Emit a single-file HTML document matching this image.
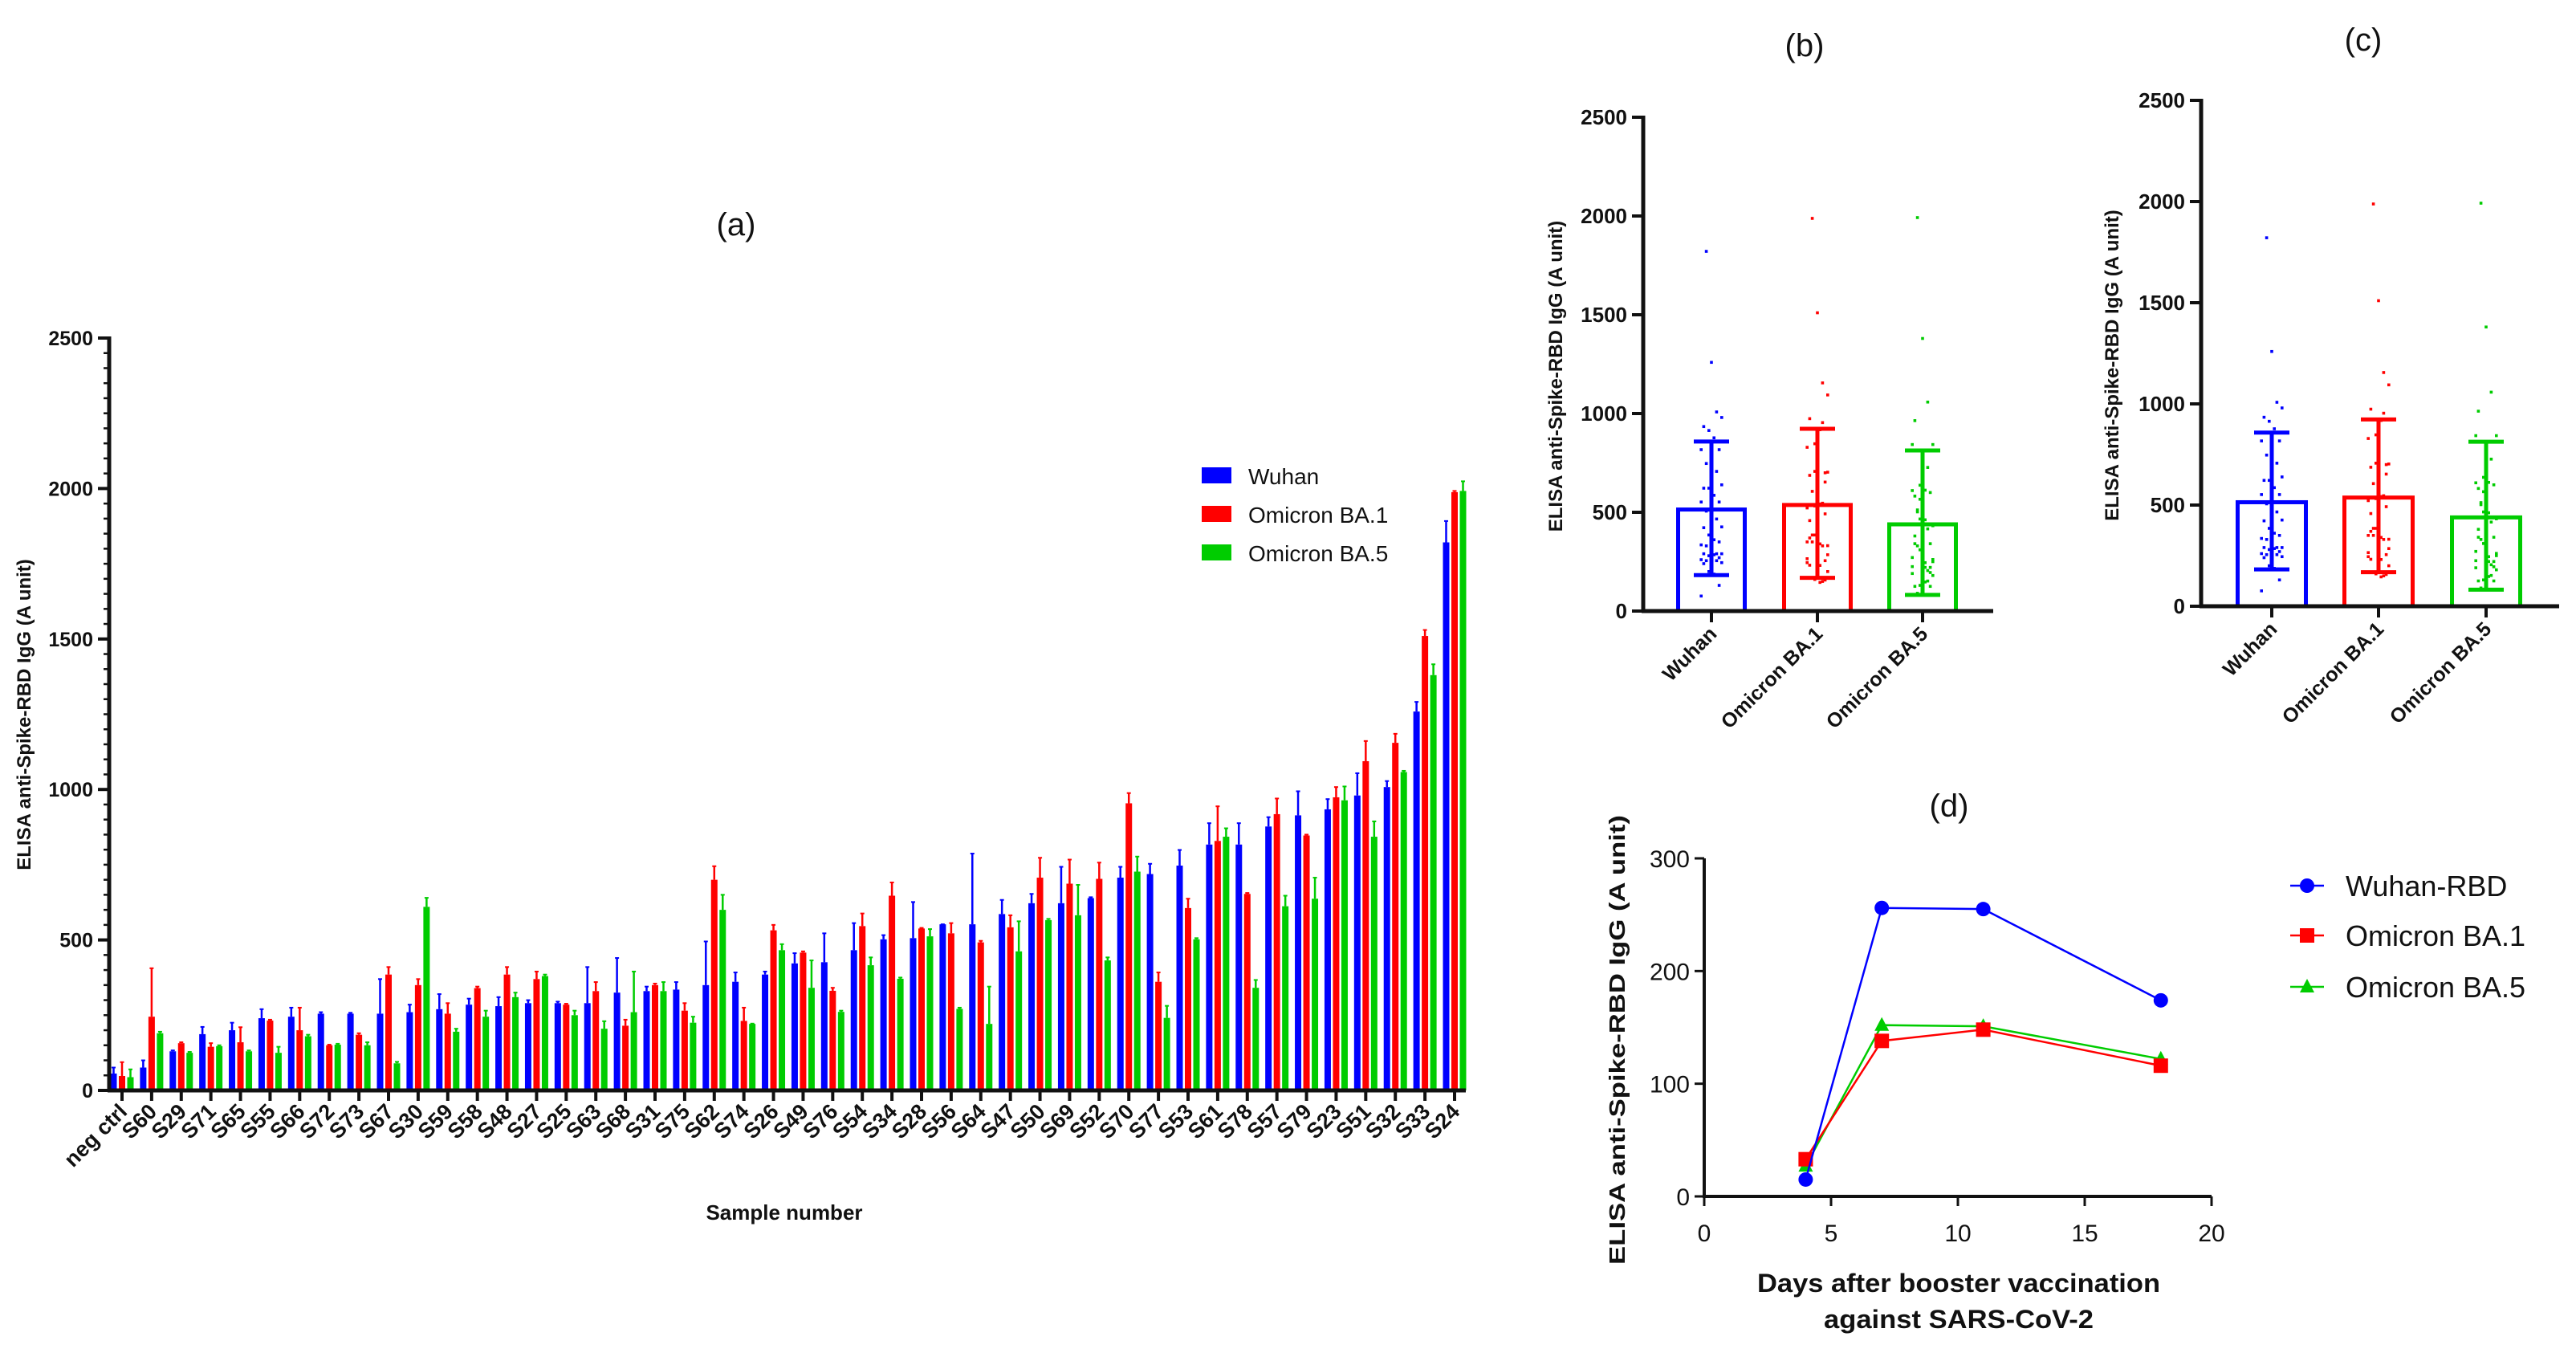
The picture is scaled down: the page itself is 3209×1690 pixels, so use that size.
<!DOCTYPE html>
<html><head><meta charset="utf-8"><style>
html,body{margin:0;padding:0;background:#fff}
svg{display:block}
text{font-family:"Liberation Sans",sans-serif;fill:#111}
</style></head><body>
<svg id="fig" width="3209" height="1690" viewBox="0 0 3209 1690" xmlns="http://www.w3.org/2000/svg">
<g id="pa"></g>
<g id="pb"></g>
<g id="pc"></g>
<g id="pd"></g>
</svg>
<script>
// ---------- Panel (a) data ----------
const samples = ["neg ctrl","S60","S29","S71","S65","S55","S66","S72","S73","S67","S30","S59","S58","S48","S27","S25","S63","S68","S31","S75","S62","S74","S26","S49","S76","S54","S34","S28","S56","S64","S47","S50","S69","S52","S70","S77","S53","S61","S78","S57","S79","S23","S51","S32","S33","S24"];
const wuhanMean = [56,76,130,187,200,240,245,255,255,255,260,270,285,280,290,290,290,325,330,335,350,361,385,422,426,466,502,506,552,552,586,622,622,639,707,719,747,817,817,877,914,934,980,1008,1259,1821];
const wuhanErr  = [76,100,133,211,225,270,275,260,258,370,285,320,305,310,300,295,410,440,345,360,495,392,395,456,522,556,516,626,552,787,633,653,743,642,743,753,799,888,888,908,994,968,1054,1028,1291,1892];
const ba1Mean = [48,245,157,145,160,232,200,150,185,385,350,255,340,385,370,285,330,215,350,265,700,231,532,458,331,546,647,538,522,492,542,707,687,703,954,361,606,829,653,918,847,974,1094,1155,1510,1988];
const ba1Err  = [94,406,160,157,210,235,275,152,190,410,370,290,345,410,395,288,360,235,355,290,745,275,550,462,341,588,691,540,556,497,582,773,767,757,988,392,637,944,656,970,850,1008,1161,1185,1530,1992];
const ba5Mean = [44,190,125,147,130,125,180,152,150,90,610,195,245,310,380,250,205,260,330,225,600,221,466,341,261,416,371,512,271,221,462,566,582,432,727,241,502,843,341,612,637,964,843,1058,1380,1992];
const ba5Err  = [70,195,128,150,133,145,185,155,160,95,640,205,265,325,385,265,230,395,360,245,650,222,486,432,265,442,375,536,275,345,562,570,683,442,777,281,506,871,367,647,707,1010,894,1062,1416,2024];
const yTicksA = [0,500,1000,1500,2000,2500];
const seriesNames = ["Wuhan","Omicron BA.1","Omicron BA.5"];
// ---------- Panels (b)/(c) data ----------
const groupNames = ["Wuhan","Omicron BA.1","Omicron BA.5"];
const groupMean = [514,537,439];
const groupLow  = [182,168,82];
const groupHigh = [858,923,813];
// ---------- Panel (d) data ----------
const days = [4,7,11,18];
const dWuhan = [15,256,255,174];
const dBA1 = [33,138,148,116];
const dBA5 = [27,152,151,122];
const dSeriesNames = ["Wuhan-RBD","Omicron BA.1","Omicron BA.5"];
const dYTicks = [0,100,200,300];
const dXTicks = [0,5,10,15,20];

const NS="http://www.w3.org/2000/svg";
const COLORS=["#0000ff","#ff0000","#00cc00"];
function mk(parent,tag,attrs,txt){const e=document.createElementNS(NS,tag);for(const k in attrs)e.setAttribute(k,attrs[k]);if(txt!==undefined)e.textContent=txt;parent.appendChild(e);return e;}

// ===== Panel A =====
(function(){
const g=document.getElementById('pa');
const x0=136,x1=1826,y0=1358,yTop=421;
const y=v=>y0-(v/2500)*(y0-yTop);
const tickX=i=>152+i*(1812-152)/(samples.length-1);
let t=mk(g,'text',{x:917,y:293,'font-size':40,'text-anchor':'middle'},'(a)');

const means=[wuhanMean,ba1Mean,ba5Mean],errs=[wuhanErr,ba1Err,ba5Err];
const off=[-10.5,0,10.5];
samples.forEach((s,i)=>{
  for(let k=0;k<3;k++){
    const cx=tickX(i)+off[k];
    const b=mk(g,'rect',{x:cx-4,y:y(means[k][i]),width:8,height:y0-y(means[k][i]),fill:COLORS[k]});
    
    
    const e=mk(g,'line',{x1:cx,x2:cx,y1:y(means[k][i]),y2:y(errs[k][i]),stroke:COLORS[k],'stroke-width':2.5});
    
    const c=mk(g,'line',{x1:cx-2.5,x2:cx+2.5,y1:y(errs[k][i]),y2:y(errs[k][i]),stroke:COLORS[k],'stroke-width':2});
    
  }
  const tk=mk(g,'line',{x1:tickX(i),x2:tickX(i),y1:y0,y2:y0+13,stroke:'#111','stroke-width':4});
  
  const lx=tickX(i)+8,ly=y0+28;
  const l=mk(g,'text',{x:lx,y:ly,'font-size':27,'font-weight':'bold','text-anchor':'end',transform:`rotate(-45 ${lx} ${ly})`},s);
  
});
let ax=mk(g,'line',{x1:x0,x2:x0,y1:yTop-2,y2:y0+2,stroke:'#111','stroke-width':5});

ax=mk(g,'line',{x1:x0-2,x2:x1,y1:y0,y2:y0,stroke:'#111','stroke-width':5});

for(let v=0;v<=2500;v+=50){
  const major=v%500===0;
  const m=mk(g,'line',{x1:x0-(major?14:7),x2:x0,y1:y(v),y2:y(v),stroke:'#111','stroke-width':major?4:2.5});
  
}
yTicksA.forEach(v=>{const l=mk(g,'text',{x:116,y:y(v)+9,'font-size':25,'font-weight':'bold','text-anchor':'end'},String(v));
  });
t=mk(g,'text',{x:0,y:0,'font-size':24,'font-weight':'bold','text-anchor':'middle',transform:'translate(38 890) rotate(-90)'},'ELISA anti-Spike-RBD IgG (A unit)');

t=mk(g,'text',{x:977,y:1519,'font-size':26,'font-weight':'bold','text-anchor':'middle'},'Sample number');

seriesNames.forEach((n,k)=>{
  const ly=593+k*48;
  const sw=mk(g,'rect',{x:1497,y:ly-11,width:37,height:20,fill:COLORS[k]});
  
  const l=mk(g,'text',{x:1555,y:ly+10,'font-size':28},n);
  
});
})();

// ===== Panels B and C =====
function barPanel(id,o){
const g=document.getElementById(id);
const y=v=>o.y0-(v/2500)*(o.y0-o.yTop);
let t=mk(g,'text',{x:o.titleX,y:o.titleY,'font-size':40,'text-anchor':'middle'},o.title);

const allMeans=[wuhanMean,ba1Mean,ba5Mean];
groupNames.forEach((n,k)=>{
  const cx=o.cats[k];
  const r=mk(g,'rect',{x:cx-o.bw/2,y:y(groupMean[k]),width:o.bw,height:o.y0-y(groupMean[k]),fill:'none',stroke:COLORS[k],'stroke-width':5});
  
  allMeans[k].slice(1).forEach((v,j)=>{
    const jit=((j*7)%9-4)*3.2;
    const p=mk(g,'rect',{x:cx+jit-1.8,y:y(v)-1.8,width:3.6,height:3.6,fill:COLORS[k]});
    
  });
  const e=mk(g,'path',{d:`M${cx},${y(groupLow[k])}V${y(groupHigh[k])}M${cx-22},${y(groupHigh[k])}H${cx+22}M${cx-22},${y(groupLow[k])}H${cx+22}`,stroke:COLORS[k],'stroke-width':5,fill:'none'});
  
  const tk=mk(g,'line',{x1:cx,x2:cx,y1:o.y0,y2:o.y0+14,stroke:'#111','stroke-width':4});
  
  const lx=cx+8,ly=o.y0+30;
  const l=mk(g,'text',{x:lx,y:ly,'font-size':25,'font-weight':'bold','text-anchor':'end',transform:`rotate(-45 ${lx} ${ly})`},n);
  
});
let ax=mk(g,'line',{x1:o.x0,x2:o.x0,y1:o.yTop-2,y2:o.y0+2,stroke:'#111','stroke-width':5});

ax=mk(g,'line',{x1:o.x0-2,x2:o.x1,y1:o.y0,y2:o.y0,stroke:'#111','stroke-width':5});

yTicksA.forEach(v=>{
  const m=mk(g,'line',{x1:o.x0-14,x2:o.x0,y1:y(v),y2:y(v),stroke:'#111','stroke-width':4});
  
  const l=mk(g,'text',{x:o.x0-20,y:y(v)+9,'font-size':26,'font-weight':'bold','text-anchor':'end'},String(v));
  
});
t=mk(g,'text',{x:0,y:0,'font-size':24,'font-weight':'bold','text-anchor':'middle',transform:`translate(${o.ytx} ${(o.y0+o.yTop)/2+15}) rotate(-90)`},'ELISA anti-Spike-RBD IgG (A unit)');

}
barPanel('pb',{x0:2047,x1:2483,y0:761,yTop:146,cats:[2132,2264,2395],bw:83,title:'(b)',titleX:2248,titleY:70,ytx:1946});
barPanel('pc',{x0:2742,x1:3188,y0:755,yTop:125,cats:[2830,2963,3097],bw:85,title:'(c)',titleX:2944,titleY:63,ytx:2639});

// ===== Panel D =====
(function(){
const g=document.getElementById('pd');
const x0=2123,x1=2755,y0=1490,yTop=1069;
const x=v=>x0+(v/20)*(x1-x0);
const y=v=>y0-(v/300)*(y0-yTop);
let t=mk(g,'text',{x:2428,y:1017,'font-size':40,'text-anchor':'middle'},'(d)');

let ax=mk(g,'line',{x1:x0,x2:x0,y1:yTop,y2:y0+2,stroke:'#111','stroke-width':4});

ax=mk(g,'line',{x1:x0-2,x2:x1,y1:y0,y2:y0,stroke:'#111','stroke-width':4});

dYTicks.forEach(v=>{
  const m=mk(g,'line',{x1:x0-12,x2:x0,y1:y(v),y2:y(v),stroke:'#111','stroke-width':3});
  
  const l=mk(g,'text',{x:x0-18,y:y(v)+11,'font-size':30,'text-anchor':'end'},String(v));
  
});
dXTicks.forEach(v=>{
  const m=mk(g,'line',{x1:x(v),x2:x(v),y1:y0,y2:y0+12,stroke:'#111','stroke-width':3});
  
  const l=mk(g,'text',{x:x(v),y:y0+56,'font-size':30,'text-anchor':'middle'},String(v));
  
});
const sers=[dWuhan,dBA1,dBA5];
[2,1,0].forEach(k=>{
  const d=days.map((dv,i)=>(i?'L':'M')+x(dv)+','+y(sers[k][i])).join('');
  const p=mk(g,'path',{d,stroke:COLORS[k],'stroke-width':2.5,fill:'none'});
  
  days.forEach((dv,i)=>{
    const px=x(dv),py=y(sers[k][i]);let m;
    if(k===0)m=mk(g,'circle',{cx:px,cy:py,r:9,fill:COLORS[0]});
    else if(k===1)m=mk(g,'rect',{x:px-9,y:py-9,width:18,height:18,fill:COLORS[1]});
    else m=mk(g,'path',{d:`M${px},${py-10}L${px+9},${py+7}L${px-9},${py+7}Z`,fill:COLORS[2]});
    
  });
});
t=mk(g,'text',{x:0,y:0,'font-size':28,'font-weight':'bold','text-anchor':'middle',transform:'translate(2024 1295) rotate(-90)',textLength:560,lengthAdjust:'spacingAndGlyphs'},'ELISA anti-Spike-RBD IgG (A unit)');

t=mk(g,'text',{x:2440,y:1609,'font-size':32,'font-weight':'bold','text-anchor':'middle',textLength:502,lengthAdjust:'spacingAndGlyphs'},'Days after booster vaccination');

t=mk(g,'text',{x:2440,y:1654,'font-size':32,'font-weight':'bold','text-anchor':'middle',textLength:336,lengthAdjust:'spacingAndGlyphs'},'against SARS-CoV-2');

dSeriesNames.forEach((n,k)=>{
  const ly=[1103,1165,1229][k];
  const ln=mk(g,'line',{x1:2853,x2:2895,y1:ly,y2:ly,stroke:COLORS[k],'stroke-width':2.5});
  
  let m;const px=2874,py=ly;
  if(k===0)m=mk(g,'circle',{cx:px,cy:py,r:9,fill:COLORS[0]});
  else if(k===1)m=mk(g,'rect',{x:px-9,y:py-9,width:18,height:18,fill:COLORS[1]});
  else m=mk(g,'path',{d:`M${px},${py-10}L${px+9},${py+7}L${px-9},${py+7}Z`,fill:COLORS[2]});
  
  const l=mk(g,'text',{x:2922,y:ly+13,'font-size':36},n);
  
});
})();
</script>
</body></html>
